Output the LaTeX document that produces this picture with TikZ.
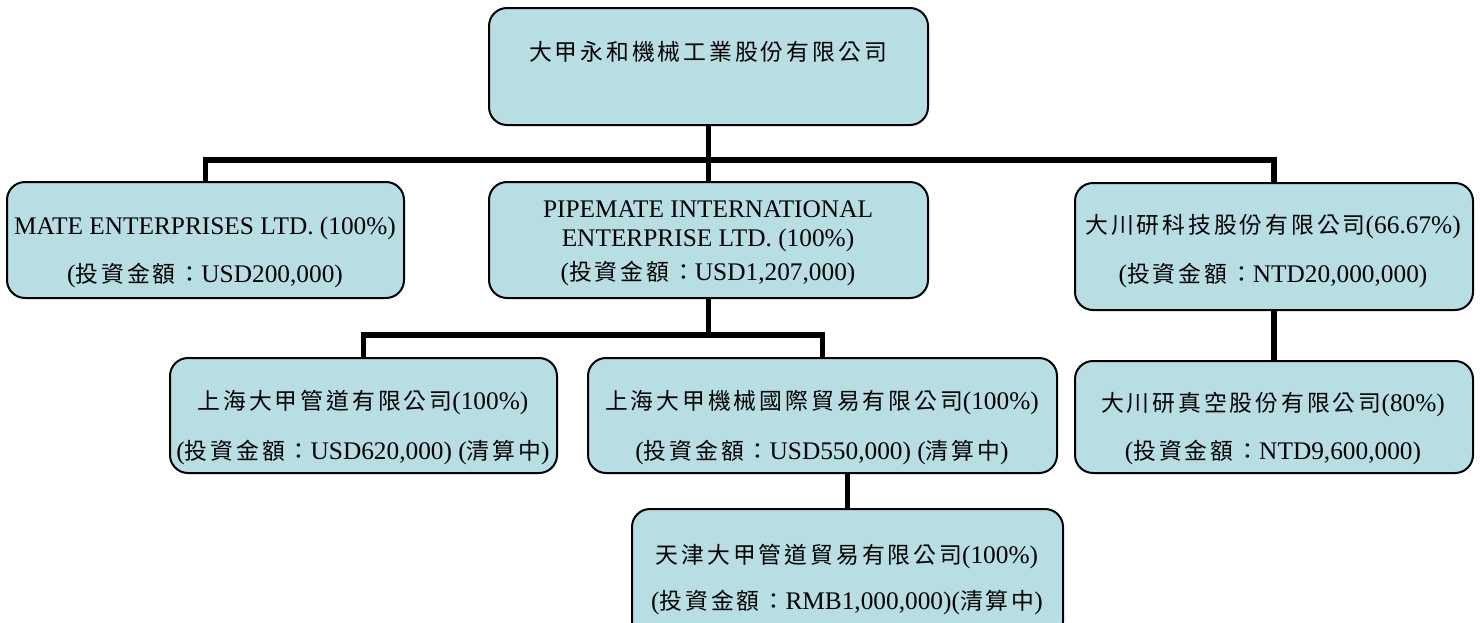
\documentclass[tikz,border=0pt]{standalone}
\usepackage{fontspec}
\setmainfont{Liberation Serif}
\newfontfamily\cjk{Noto Sans CJK TC}[Scale=0.9,LetterSpace=13]
\usetikzlibrary{fit,backgrounds}
\newcommand{\cj}[1]{{\cjk #1}}
\definecolor{boxfill}{RGB}{183,222,227}
\begin{document}
\begin{tikzpicture}[x=0.75pt,y=-0.75pt,
  box/.style={draw=black, line width=1.5pt, fill=boxfill, rounded corners=13.5pt, inner sep=0pt},
  txt/.style={inner sep=0pt, font=\fontsize{19}{22}\selectfont},
  conn/.style={line width=4.2pt, line join=miter, line cap=butt}]
\useasboundingbox (0,0) rectangle (1480,622);
% boxes
\node[box, fit={(489,8) (928,125)}] (top) {};
\node[box, fit={(7,182) (404,298)}] (mate) {};
\node[box, fit={(489,182) (928,298)}] (pipe) {};
\node[box, fit={(1075,183) (1473,310)}] (dcy) {};
\node[box, fit={(170,358) (557,473)}] (shp) {};
\node[box, fit={(588,358) (1057,473)}] (shm) {};
\node[box, fit={(1075,361) (1473,473)}] (dcyv) {};
\node[box, fit={(632,509) (1063,640)}] (tj) {};
% bus points
\coordinate (bus1) at (708.5,160);
\coordinate (bus2) at (708.5,335);
% connectors
\begin{scope}[on background layer]
\draw[conn] (top.south) -- (pipe.north);
\draw[conn] (mate.north) |- (bus1) -| (dcy.north);
\draw[conn] (pipe.south) -- (bus2);
\draw[conn] (shp.north) |- (bus2) -| (shm.north);
\draw[conn] (tj.north) -- (tj.north |- shm.south);
\draw[conn] (dcy.south) -- (dcyv.north);
\end{scope}
% texts
\node[txt] (top-t) at (708,52) {\cj{大甲永和機械工業股份有限公司}};
\node[txt] (mate-1) at (205,228) {MATE ENTERPRISES LTD. (100\%)};
\node[txt] (mate-2) at (205,276) {(\cj{投資金額：}USD200,000)};
\node[txt] (pipe-1) at (708,209) {PIPEMATE INTERNATIONAL};
\node[txt] (pipe-2) at (708,240) {ENTERPRISE LTD. (100\%)};
\node[txt] (pipe-3) at (708,274) {(\cj{投資金額：}USD1,207,000)};
\node[txt] (dcy-1) at (1273,227) {\cj{大川研科技股份有限公司}(66.67\%)};
\node[txt] (dcy-2) at (1273,276) {(\cj{投資金額：}NTD20,000,000)};
\node[txt] (dcyv-1) at (1273,405) {\cj{大川研真空股份有限公司}(80\%)};
\node[txt] (dcyv-2) at (1273,453) {(\cj{投資金額：}NTD9,600,000)};
\node[txt] (shp-1) at (363,403) {\cj{上海大甲管道有限公司}(100\%)};
\node[txt] (shp-2) at (363,453) {(\cj{投資金額：}USD620,000) (\cj{清算中})};
\node[txt] (shm-1) at (822,403) {\cj{上海大甲機械國際貿易有限公司}(100\%)};
\node[txt] (shm-2) at (822,453) {(\cj{投資金額：}USD550,000) (\cj{清算中})};
\node[txt] (tj-1) at (847,557) {\cj{天津大甲管道貿易有限公司}(100\%)};
\node[txt] (tj-2) at (847,603) {(\cj{投資金額：}RMB1,000,000)(\cj{清算中})};
\end{tikzpicture}
\end{document}
